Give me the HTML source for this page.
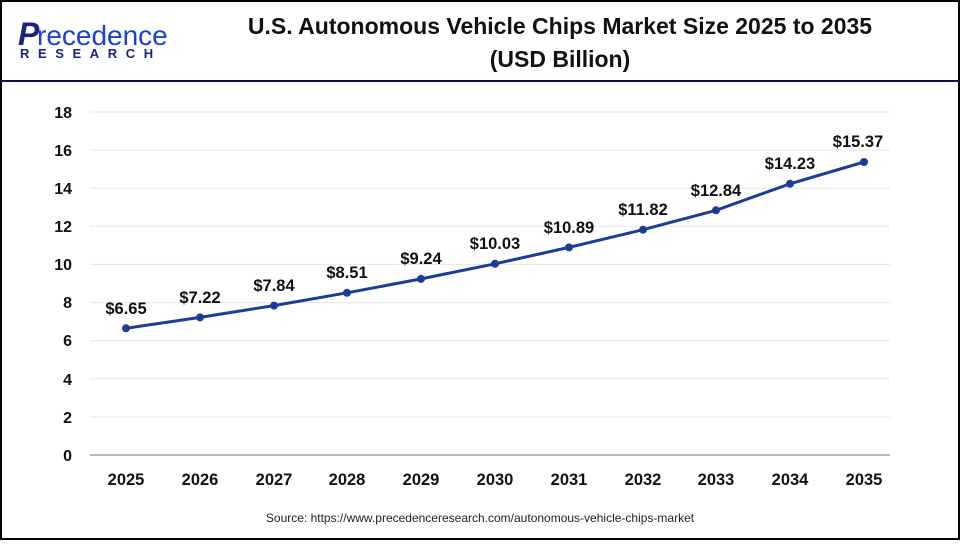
<!DOCTYPE html>
<html><head><style>
body{margin:0;width:960px;height:540px;overflow:hidden;background:#fff;font-family:"Liberation Sans",sans-serif}
</style></head><body>
<svg width="960" height="540" xmlns="http://www.w3.org/2000/svg" font-family="Liberation Sans, sans-serif">
<rect x="1" y="1" width="958" height="538" fill="#fff" stroke="#000" stroke-width="2"/>
<line x1="1" y1="81" x2="959" y2="81" stroke="#0d1240" stroke-width="2"/>
<text x="18" y="45" font-size="32" fill="#1a237e" font-weight="bold" font-style="italic">P</text>
<text x="37" y="45" font-size="28" fill="#1e40d0">recedence</text>
<text x="20" y="58" font-size="13" fill="#1a237e" font-weight="bold" letter-spacing="8.6">RESEARCH</text>
<text x="560" y="34" font-size="23" font-weight="bold" text-anchor="middle" fill="#111">U.S. Autonomous Vehicle Chips Market Size 2025 to 2035</text>
<text x="560" y="67" font-size="23" font-weight="bold" text-anchor="middle" fill="#111">(USD Billion)</text>
<g stroke="#e6e6e6" stroke-width="1">
<line x1="90" x2="890" y1="112" y2="112"/><line x1="90" x2="890" y1="150.1" y2="150.1"/><line x1="90" x2="890" y1="188.2" y2="188.2"/><line x1="90" x2="890" y1="226.3" y2="226.3"/><line x1="90" x2="890" y1="264.4" y2="264.4"/><line x1="90" x2="890" y1="302.6" y2="302.6"/><line x1="90" x2="890" y1="340.7" y2="340.7"/><line x1="90" x2="890" y1="378.8" y2="378.8"/><line x1="90" x2="890" y1="416.9" y2="416.9"/>
</g>
<line x1="90" x2="890" y1="455" y2="455" stroke="#bbb" stroke-width="2"/>
<g font-size="16" font-weight="bold" text-anchor="end" fill="#111">
<text x="72" y="118">18</text><text x="72" y="156">16</text><text x="72" y="194">14</text><text x="72" y="232">12</text><text x="72" y="270">10</text><text x="72" y="308">8</text><text x="72" y="346">6</text><text x="72" y="385">4</text><text x="72" y="423">2</text><text x="72" y="461">0</text>
</g>
<g font-size="16.5" font-weight="bold" text-anchor="middle" fill="#111">
<text x="126" y="485">2025</text><text x="200" y="485">2026</text><text x="274" y="485">2027</text><text x="347" y="485">2028</text><text x="421" y="485">2029</text><text x="495" y="485">2030</text><text x="569" y="485">2031</text><text x="643" y="485">2032</text><text x="716" y="485">2033</text><text x="790" y="485">2034</text><text x="864" y="485">2035</text>
</g>
<polyline fill="none" stroke="#1c3d96" stroke-width="3" points="126,328.3 200,317.4 274,305.6 347,292.8 421,278.9 495,263.8 569,247.4 643,229.7 716,210.3 790,183.8 864,162"/>
<g fill="#1c3d96">
<circle cx="126" cy="328.3" r="4"/><circle cx="200" cy="317.4" r="4"/><circle cx="274" cy="305.6" r="4"/><circle cx="347" cy="292.8" r="4"/><circle cx="421" cy="278.9" r="4"/><circle cx="495" cy="263.8" r="4"/><circle cx="569" cy="247.4" r="4"/><circle cx="643" cy="229.7" r="4"/><circle cx="716" cy="210.3" r="4"/><circle cx="790" cy="183.8" r="4"/><circle cx="864" cy="162" r="4"/>
</g>
<g font-size="16.5" font-weight="bold" text-anchor="middle" fill="#111">
<text x="126" y="314">$6.65</text><text x="200" y="303">$7.22</text><text x="274" y="291">$7.84</text><text x="347" y="278">$8.51</text><text x="421" y="264">$9.24</text><text x="495" y="249">$10.03</text><text x="569" y="233">$10.89</text><text x="643" y="215">$11.82</text><text x="716" y="196">$12.84</text><text x="790" y="169">$14.23</text><text x="858" y="147">$15.37</text>
</g>
<text x="480" y="522" font-size="12" text-anchor="middle" fill="#222">Source: https://www.precedenceresearch.com/autonomous-vehicle-chips-market</text>
</svg>
</body></html>
